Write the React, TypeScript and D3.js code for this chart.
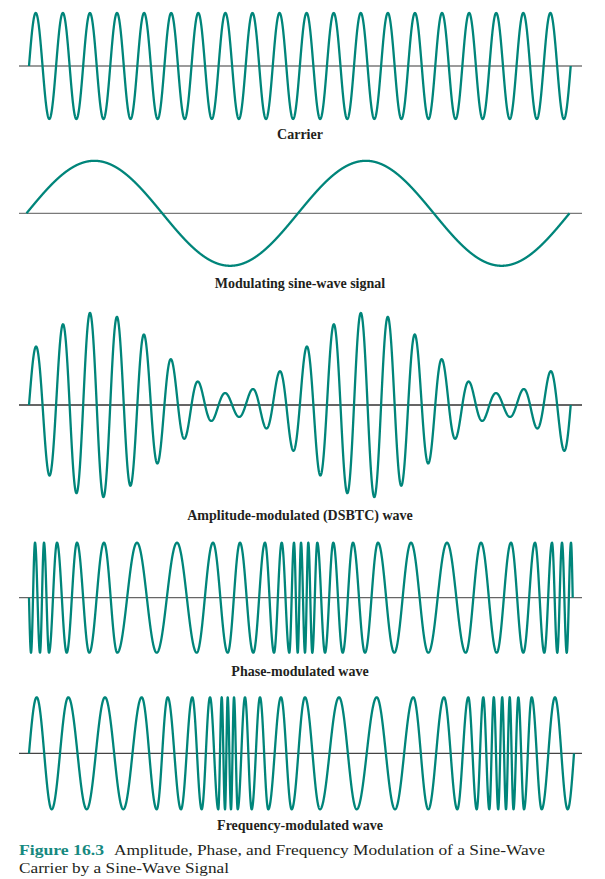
import React from "react";
import * as d3 from "d3";

// ---------- data ----------
const panelLabels = [
  "Carrier",
  "Modulating sine-wave signal",
  "Amplitude-modulated (DSBTC) wave",
  "Phase-modulated wave",
  "Frequency-modulated wave",
];
const carrierCycles = 20; // carrier periods across the window
const signalCycles = 2; // modulating-signal periods across the window
const amModulationIndex = 0.78;

// Extrema of the phase-modulated wave (time in carrier periods), starting with a trough
const pmExtrema = [
  0.074, 0.222, 0.406, 0.554, 0.738, 1.034, 1.392, 1.772, 2.226, 2.769, 3.26, 3.987, 4.715,
  5.464, 6.192, 6.793, 7.336, 7.79, 8.281, 8.713, 9.046, 9.33, 9.611, 9.784, 9.921, 10.043,
  10.19, 10.312, 10.46, 10.644, 10.929, 11.235, 11.582, 11.962, 12.405, 12.885, 13.487, 14.104,
  14.743, 15.433, 16.123, 16.688, 17.268, 17.796, 18.25, 18.682, 19.025, 19.31, 19.505, 19.679,
  19.853, 20.011,
];
const pmEnd = 20.074;

// Extrema of the frequency-modulated wave (time in carrier periods), starting with a peak
const fmExtrema = [
  0.284, 0.838, 1.451, 2.13, 2.806, 3.482, 4.161, 4.715, 5.121, 5.612, 6.029, 6.376, 6.683,
  6.989, 7.115, 7.237, 7.336, 7.458, 7.569, 7.705, 7.975, 8.222, 8.529, 8.835, 9.304, 9.699,
  10.19, 10.744, 11.446, 12.099, 12.838, 13.513, 14.189, 14.743, 15.322, 15.813, 16.22, 16.53,
  16.773, 16.995, 17.161, 17.323, 17.471, 17.611, 17.748, 17.888, 18.066, 18.276, 18.56, 18.929,
  19.42, 19.889,
];
const fmEnd = 20.122;

const captionNumber = "Figure 16.3";
const captionLines = [
  "Amplitude, Phase, and Frequency Modulation of a Sine-Wave",
  "Carrier by a Sine-Wave Signal",
];

// ---------- layout ----------
const W = 605;
const H = 879;
const WAVE = "#00857a";
const TEAL_TEXT = "#16897f";
const FONT = "'Liberation Serif', 'Times New Roman', Times, serif";

const axisYs = [66, 213.3, 405, 597.7, 753.3];
const axisColors = ["#7a7a7a", "#7a7a7a", "#333333", "#666666", "#444444"];
const unitAmps = [53, 52.5, 52, 55, 56];
const labelYs = [139, 287.5, 519.5, 676, 829.5];

const x = d3.scaleLinear().domain([0, carrierCycles]).range([29, 570.7]);
const xSignal = d3.scaleLinear().domain([0, carrierCycles]).range([26.5, 569.5]);

type Pt = { t: number; v: number };

function sample(end: number, fn: (t: number) => number, step = 0.006): Pt[] {
  const ts = d3.range(0, end, step);
  ts.push(end);
  return ts.map((t) => ({ t, v: fn(t) }));
}

function knotWave(extrema: number[], end: number, sign: number) {
  const ts = [0, ...extrema, end];
  const ph = ts.map((_, i) =>
    i === 0 ? 0 : i === ts.length - 1 ? (Math.PI / 2) * (2 * extrema.length) : (Math.PI / 2) * (2 * i - 1)
  );
  const phase = d3.scaleLinear().domain(ts).range(ph);
  return (t: number) => sign * Math.sin(phase(t));
}

const signal = (t: number) => Math.sin((2 * Math.PI * signalCycles * t) / carrierCycles);
const carrier = (t: number) => Math.sin(2 * Math.PI * t);

const waves: { pts: Pt[]; xs: d3.ScaleLinear<number, number> }[] = [
  { pts: sample(carrierCycles, carrier), xs: x },
  { pts: sample(carrierCycles, signal), xs: xSignal },
  { pts: sample(carrierCycles, (t) => (1 + amModulationIndex * signal(t)) * carrier(t)), xs: x },
  { pts: sample(pmEnd, knotWave(pmExtrema, pmEnd, -1), 0.004), xs: x },
  { pts: sample(fmEnd, knotWave(fmExtrema, fmEnd, 1), 0.004), xs: x },
];

export default function App() {
  return (
    <svg
      width={W}
      height={H}
      viewBox={`0 0 ${W} ${H}`}
      style={{ position: "absolute", left: 0, top: 0, background: "#fff" }}
    >
      {waves.map((w, i) => {
        const y = d3
          .scaleLinear()
          .domain([-1, 1])
          .range([axisYs[i] + unitAmps[i], axisYs[i] - unitAmps[i]]);
        const line = d3
          .line<Pt>()
          .x((d) => w.xs(d.t))
          .y((d) => y(d.v));
        return (
          <g key={i}>
            <line x1={19} x2={582} y1={axisYs[i]} y2={axisYs[i]} stroke={axisColors[i]} strokeWidth={1.3} />
            <path d={line(w.pts) || ""} fill="none" stroke={WAVE} strokeWidth={2.3} strokeLinejoin="round" />
            <text
              x={300}
              y={labelYs[i]}
              textAnchor="middle"
              fontFamily={FONT}
              fontWeight="bold"
              fontSize={14}
              fill="#231f20"
            >
              {panelLabels[i]}
            </text>
          </g>
        );
      })}
      <text
        x={19}
        y={855}
        fontFamily={FONT}
        fontSize={15.5}
        fontWeight="bold"
        fill={TEAL_TEXT}
        textLength={85}
        lengthAdjust="spacingAndGlyphs"
      >
        {captionNumber}
      </text>
      <text
        x={114}
        y={855}
        fontFamily={FONT}
        fontSize={15.5}
        fill="#231f20"
        textLength={431}
        lengthAdjust="spacingAndGlyphs"
      >
        {captionLines[0]}
      </text>
      <text
        x={19}
        y={873}
        fontFamily={FONT}
        fontSize={15.5}
        fill="#231f20"
        textLength={210}
        lengthAdjust="spacingAndGlyphs"
      >
        {captionLines[1]}
      </text>
    </svg>
  );
}
